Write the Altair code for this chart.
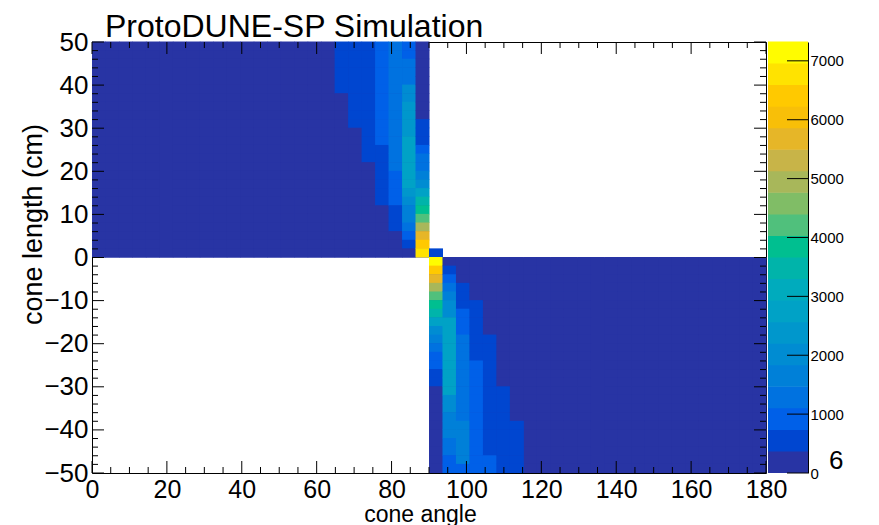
import altair as alt
import pandas as pd

FONT = "Liberation Sans"
TITLE = "ProtoDUNE-SP Simulation"
X_TITLE = "cone angle"
Y_TITLE = "cone length (cm)"

# histogram binning
X_LO, X_HI, NX = 0.0, 180.0, 50
Y_LO, Y_HI, NY = -50.0, 50.0, 50
Z_MAX = 7320  # top of the colour scale (histogram maximum)

X_TICK_LABELS = [0, 20, 40, 60, 80, 100, 120, 140, 160, 180]
X_MINOR = [5, 10, 15, 25, 30, 35, 45, 50, 55, 65, 70, 75, 85, 90, 95, 105, 110, 115,
           125, 130, 135, 145, 150, 155, 165, 170, 175]
Y_TICK_LABELS = [-50, -40, -30, -20, -10, 0, 10, 20, 30, 40, 50]
Y_MINOR = [v for v in range(-48, 50, 2) if v % 10]
Z_TICK_LABELS = [0, 1000, 2000, 3000, 4000, 5000, 6000, 7000]

# 20 colour contours, low -> high
PALETTE = ["#2834a4", "#0046d0", "#0060e8", "#0072e0", "#0080d8", "#008cd2", "#0097cc",
           "#00a2c6", "#00abbd", "#00b4aa", "#00bf90", "#50c07c", "#80bd66", "#a8b75a",
           "#c8b448", "#e6b628", "#f8bf08", "#ffc900", "#ffe300", "#fffc00"]

N = 150  # low (darkest colour) counts of the flat regions

# upper-left quadrant: counts per x bin, rows from y=48..50 (top) down to y=0..2
UL_FLAT_BINS = list(range(0, 18))
UL_COLS = {
    18: [550] * 6 + [N] * 19,
    19: [550] * 10 + [N] * 15,
    20: [550] * 14 + [N] * 11,
    21: [900] * 12 + [550] * 7 + [N] * 6,
    22: [1300] * 15 + [900] * 4 + [550] * 3 + [N] * 3,
    23: [900, 900, 1300, 1300, 1300, 2000, 2000, 2400, 2400, 2400, 2400,
         2750, 2750, 2750, 2750, 2750, 2750, 2400, 2000, 1650, 1650, 1300, 900, 550, N],
    24: [N] * 9 + [550, 550, 550, 900, 1300, 1300, 1650, 2000, 2750, 3500, 3850,
                   4200, 4950, 5650, 6400, 6750],
}
UL_EXTRA = [(25, 24, 550)]  # (x bin, row, counts): lone cell just right of 90 deg

# lower-right quadrant: counts per x bin, rows from y=-2..0 (top) down to y=-50..-48
LR_FLAT_BINS = list(range(32, 50))
LR_COLS = {
    25: [7320, 6400, 5650, 4950, 4200, 3850, 3500, 2750, 2000, 1650, 1300, 900, 900,
         550, 550] + [N] * 10,
    26: [N, 550, 900, 1300, 1650, 2000, 2000] + [2750] * 9 + [2000, 2000, 1650, 1650, 1650,
                                                               1300, 1300, 900, 900],
    27: [N] * 3 + [550] * 3 + [900] * 3 + [1300] * 10 + [1650] * 5 + [900],
    28: [N] * 5 + [550] * 7 + [900] * 13,
    29: [N] * 9 + [550] * 14 + [900] * 2,
    30: [N] * 15 + [550] * 10,
    31: [N] * 19 + [550] * 6,
}

DX = (X_HI - X_LO) / NX
DY = (Y_HI - Y_LO) / NY

rows = []


def add(k, r, c, quad):
    y0 = Y_HI - DY * (r + 1)
    rows.append({"x0": X_LO + k * DX, "x1": X_LO + (k + 1) * DX,
                 "y0": y0, "y1": y0 + DY, "count": c, "quad": quad})


for k in UL_FLAT_BINS:
    for r in range(25):
        add(k, r, N, "UL")
for k, vals in UL_COLS.items():
    for r, c in enumerate(vals):
        add(k, r, c, "UL")
for k, r, c in UL_EXTRA:
    add(k, r, c, "extra")
for k in LR_FLAT_BINS:
    for r in range(25, 50):
        add(k, r, N, "LR")
for k, vals in LR_COLS.items():
    for i, c in enumerate(vals):
        add(k, 25 + i, c, "LR")

cells = pd.DataFrame(rows)

# backing rectangle for each fully filled quadrant (hides anti-aliasing seams)
backing = (cells[cells["quad"] != "extra"].groupby("quad")
           .agg(x0=("x0", "min"), x1=("x1", "max"), y0=("y0", "min"), y1=("y1", "max"),
                count=("count", "min")).reset_index())

W, H = 674, 431
CBW = 40

xs = alt.Scale(domain=[X_LO, X_HI], nice=False, zero=False)
ys = alt.Scale(domain=[Y_LO, Y_HI], nice=False, zero=False)
zs = alt.Scale(type="quantize", domain=[0, Z_MAX], range=PALETTE)

back = alt.Chart(backing).mark_rect().encode(
    x=alt.X("x0:Q", scale=xs, axis=alt.Axis(
        values=X_TICK_LABELS, ticks=False, domain=False, grid=False, labelFlush=False,
        labelFont=FONT, labelFontSize=25, labelColor="black", labelPadding=4,
        title=X_TITLE, titleFont=FONT, titleFontSize=23, titleFontWeight="normal",
        titleColor="black", titleX=328, titleY=48, titleBaseline="alphabetic",
        titleAlign="center")),
    x2="x1:Q",
    y=alt.Y("y0:Q", scale=ys, axis=alt.Axis(
        values=Y_TICK_LABELS, ticks=False, domain=False, grid=False, labelFlush=False,
        labelFont=FONT, labelFontSize=26, labelColor="black", labelPadding=4,
        title=Y_TITLE, titleFont=FONT, titleFontSize=27, titleFontWeight="normal",
        titleColor="black", titleX=-59, titleY=182, titleAngle=270,
        titleBaseline="middle", titleAlign="center")),
    y2="y1:Q",
    color=alt.Color("count:Q", scale=zs, legend=None),
)

heat = alt.Chart(cells).mark_rect(x2Offset=0.5, y2Offset=-0.5).encode(
    x=alt.X("x0:Q", scale=xs), x2="x1:Q",
    y=alt.Y("y0:Q", scale=ys), y2="y1:Q",
    color=alt.Color("count:Q", scale=zs, legend=None),
)


def xticks(vals, length, top):
    d = pd.DataFrame({"x0": vals})
    y_a = 0 if top else H
    y_b = length if top else H - length
    return alt.Chart(d).mark_rule(color="black", strokeWidth=1).encode(
        x=alt.X("x0:Q", scale=xs), y=alt.value(y_a), y2=alt.value(y_b))


def yticks(vals, length, right):
    d = pd.DataFrame({"y0": vals})
    x_a = W if right else 0
    x_b = W - length if right else length
    return alt.Chart(d).mark_rule(color="black", strokeWidth=1).encode(
        y=alt.Y("y0:Q", scale=ys), x=alt.value(x_a), x2=alt.value(x_b))


heat_layer = alt.layer(
    back, heat,
    xticks(X_TICK_LABELS, 12, False), xticks(X_MINOR, 6, False),
    xticks(X_TICK_LABELS, 12, True), xticks(X_MINOR, 6, True),
    yticks(Y_TICK_LABELS, 12, False), yticks(Y_MINOR, 6, False),
    yticks(Y_TICK_LABELS, 12, True), yticks(Y_MINOR, 6, True),
).properties(width=W, height=H, view=alt.ViewBackground(stroke="black", strokeWidth=1))

# colour bar
NB = len(PALETTE)
bands = pd.DataFrame({
    "lo": [Z_MAX * i / NB for i in range(NB)],
    "hi": [Z_MAX * (i + 1) / NB for i in range(NB)],
})
bands["mid"] = (bands["lo"] + bands["hi"]) / 2
zax = alt.Scale(domain=[0, Z_MAX], nice=False, zero=True)

cbar_rect = alt.Chart(bands).mark_rect(y2Offset=-0.6).encode(
    y=alt.Y("lo:Q", scale=zax, axis=alt.Axis(
        orient="right", values=Z_TICK_LABELS, format="d", ticks=False, domain=True,
        domainColor="black", domainWidth=1, grid=False, labelFlush=False, labelFont=FONT,
        labelFontSize=15, labelColor="black", labelPadding=2, title=None)),
    y2="hi:Q",
    x=alt.value(0), x2=alt.value(CBW),
    color=alt.Color("mid:Q", scale=zs, legend=None),
)
cbar_ticks = alt.Chart(pd.DataFrame({"lo": Z_TICK_LABELS})).mark_rule(
    color="black", strokeWidth=1).encode(
    y=alt.Y("lo:Q", scale=zax), x=alt.value(CBW - 21), x2=alt.value(CBW))
cbar_note = alt.Chart(pd.DataFrame({"t": ["6"]})).mark_text(
    font=FONT, fontSize=26, align="left", baseline="middle", color="black").encode(
    text="t:N", x=alt.value(CBW + 21), y=alt.value(H - 12))

cbar = alt.layer(cbar_rect, cbar_ticks, cbar_note).properties(
    width=CBW, height=H, view=alt.ViewBackground(stroke=None))

chart = alt.hconcat(heat_layer, cbar, spacing=2, bounds="flush").properties(
    title=alt.TitleParams(TITLE, anchor="start", frame="group", font=FONT, fontSize=32,
                          fontWeight="normal", color="black", dx=13, offset=-15),
    padding={"left": 10, "top": 2, "right": 0, "bottom": 2},
).configure_view(stroke=None)

chart.save("out.html", embed_options={"renderer": "svg", "actions": False})
